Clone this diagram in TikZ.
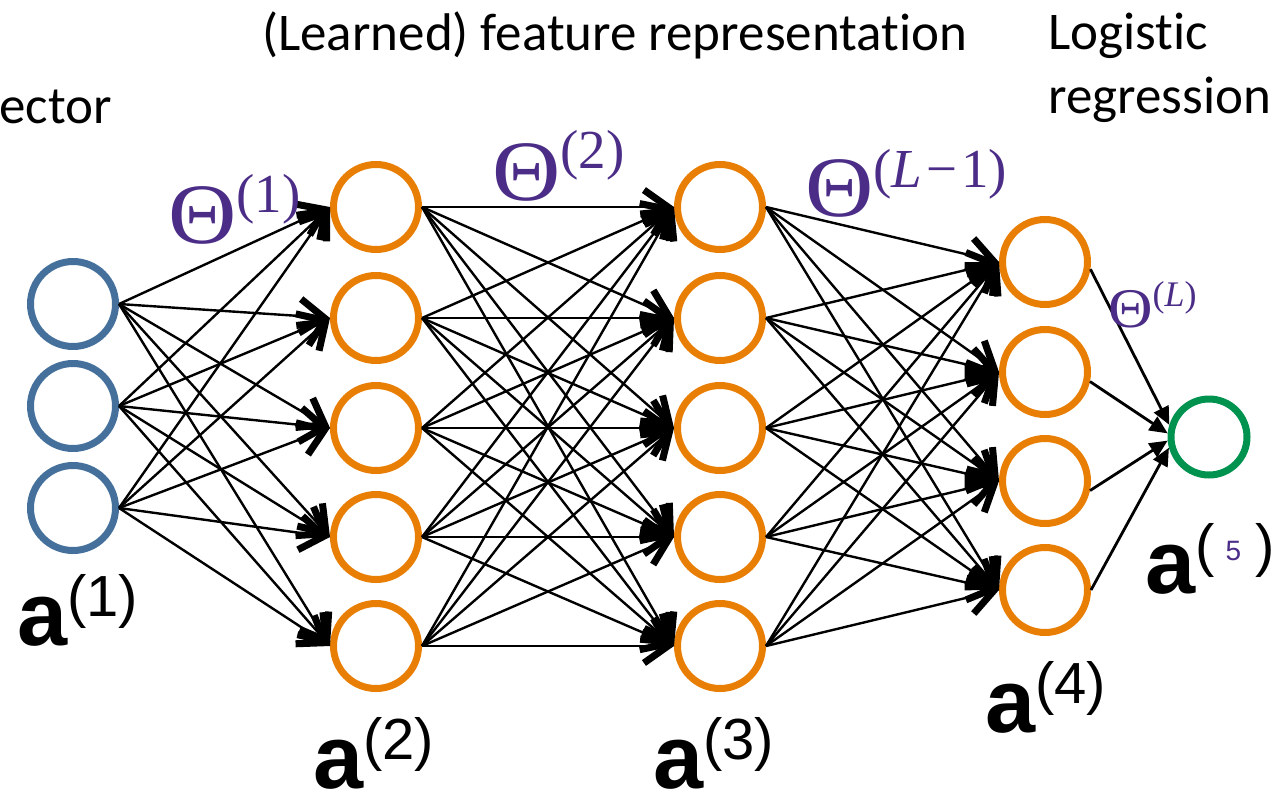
\documentclass[tikz,border=0pt]{standalone}
\usepackage{fontspec}
\usepackage{graphicx}
\setmainfont{Carlito}[Ligatures=NoCommon]
\newfontfamily\arialf{Liberation Sans}
\newfontfamily\timesf{Liberation Serif}
\usetikzlibrary{arrows.meta}
\definecolor{nnorange}{RGB}{232,126,4}
\definecolor{nnblue}{RGB}{68,112,155}
\definecolor{nngreen}{RGB}{0,146,79}
\definecolor{thpurple}{RGB}{75,45,135}
\newcommand{\alab}[1]{{\arialf\fontsize{90}{90}\selectfont\bfseries a}\raisebox{29pt}{\arialf\fontsize{58}{58}\selectfont(#1)}}
\newcommand{\thlab}[4]{\scalebox{1.1}[1]{\timesf\fontsize{#1}{#1}\selectfont Θ}\raisebox{#3}{\timesf\fontsize{#2}{#2}\selectfont(#4)}}
\begin{document}
\begin{tikzpicture}[x=1pt,y=-1pt,
  neuron/.style={circle,draw,line width=7pt,minimum size=85pt,inner sep=0pt},
  inl/.style={neuron,draw=nnblue},
  hid/.style={neuron,draw=nnorange},
  outl/.style={circle,draw=nngreen,line width=7pt,minimum size=76pt,inner sep=0pt},
  conn/.style={line width=2.4pt,-{Straight Barb[length=24pt,width=34pt,line width=7pt]}},
  fconn/.style={line width=2.8pt,-{Triangle[length=18pt,width=16pt]}},
  ttl/.style={font=\fontsize{53}{53}\selectfont,anchor=base west,inner sep=0pt},
  alabel/.style={anchor=base west,inner sep=0pt},
  thl/.style={anchor=base west,inner sep=0pt,text=thpurple}
]
\useasboundingbox (0,0) rectangle (1274,806);
% layer 1
\node[inl] (a1) at (73,304) {};
\node[inl] (a2) at (73,406) {};
\node[inl] (a3) at (73,508) {};
% layer 2
\foreach \k/\y in {1/207,2/318,3/428,4/537,5/646}
  \node[hid] (b\k) at (376,\y) {};
% layer 3
\foreach \k/\y in {1/207,2/318,3/428,4/537,5/646}
  \node[hid] (c\k) at (720,\y) {};
% layer 4
\foreach \k/\y in {1/262,2/372,3/481,4/590}
  \node[hid] (d\k) at (1045,\y) {};
% output
\node[outl] (o) at (1209,437) {};
% connections
\foreach \i in {1,2,3}
  \foreach \j in {1,...,5}
    \draw[conn] (a\i.east) -- (b\j.west);
\foreach \i in {1,...,5}
  \foreach \j in {1,...,5}
    \draw[conn] (b\i.east) -- (c\j.west);
\foreach \i in {1,...,5}
  \foreach \j in {1,...,4}
    \draw[conn] (c\i.east) -- (d\j.west);
\draw[fconn] (d1.-9) -- (o.163);
\draw[fconn] (d2.-12) -- (o.175);
\draw[fconn] (d3.-12) -- (o.185);
\draw[fconn] (d4.0) -- (o.195);
% titles
\node[ttl] (tl) at (262,50) {(Learned) feature representation};
\node[ttl] (tv) at (-1,123) {ector};
\node[ttl] (tg1) at (1048,49) {Logistic};
\node[ttl] (tg2) at (1048,113) {regression};
% theta labels
\node[thl] (th1) at (168,243) {\thlab{86}{55}{31pt}{1}};
\node[thl] (th2) at (492,200) {\thlab{86}{55}{32pt}{2}};
\node[thl] (th3) at (805,216) {\thlab{86}{55}{29pt}{{\itshape L}\hspace{4pt}−\hspace{4pt}1}};
\node[thl] (th4) at (1108,327) {\thlab{56}{36}{21pt}{{\itshape L}}};
% a labels
\node[alabel] (l1) at (17,645) {\alab{1}};
\node[alabel] (l2) at (313,788) {\alab{2}};
\node[alabel] (l3) at (653,788) {\alab{3}};
\node[alabel] (l4) at (985,732) {\alab{4}};
\node[alabel] (l5) at (1145,593) {{\arialf\fontsize{90}{90}\selectfont\bfseries a}\raisebox{28pt}{\arialf\fontsize{58}{58}\selectfont(\hspace{11pt}\raisebox{5pt}{\color{thpurple}\fontsize{28}{28}\selectfont 5}\hspace{14pt})}};
\end{tikzpicture}
\end{document}
